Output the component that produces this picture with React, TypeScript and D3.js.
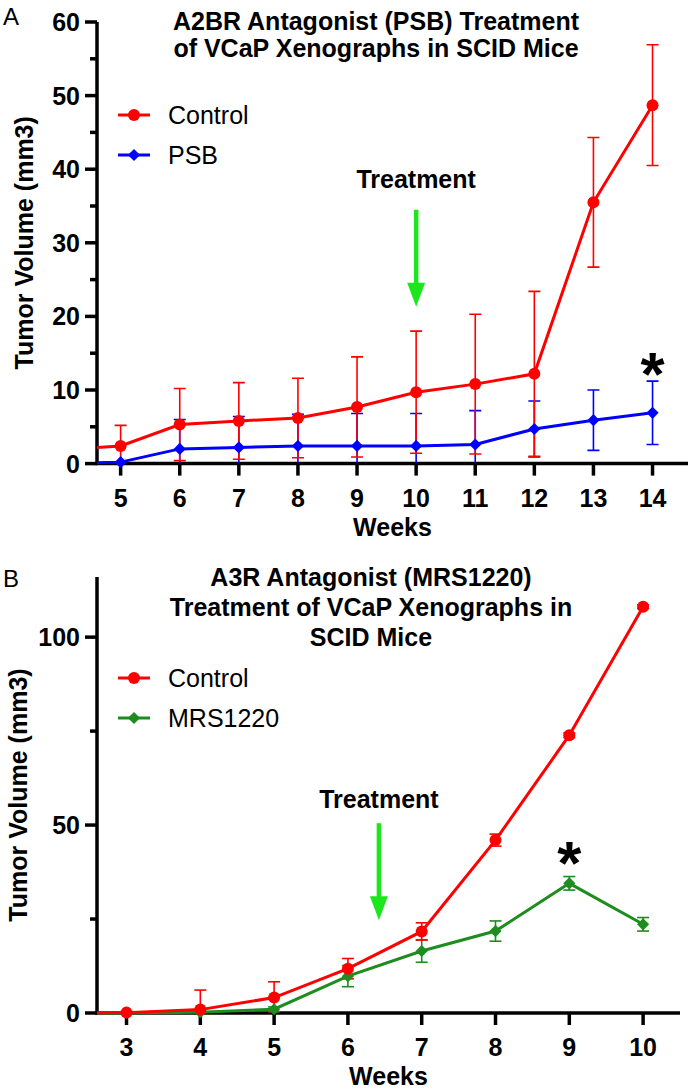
import * as d3 from "d3";

const FONT = "'Liberation Sans', Arial, Helvetica, sans-serif";

// Panel A: A2BR antagonist (PSB)
const weeksA = [4, 5, 6, 7, 8, 9, 10, 11, 12, 13, 14];
const controlA = [1.9, 2.4, 5.3, 5.8, 6.2, 7.7, 9.7, 10.8, 12.2, 35.5, 48.7];
const controlErrA = [0, 2.8, 4.9, 5.2, 5.4, 6.8, 8.3, 9.5, 11.2, 8.8, 8.2];
const psbA = [0, 0.2, 2.0, 2.2, 2.4, 2.4, 2.4, 2.6, 4.7, 5.9, 6.9];
const psbErrA = [0, 0, 4.0, 4.2, 4.3, 4.4, 4.4, 4.6, 3.8, 4.1, 4.3];
const xTicksA = [5, 6, 7, 8, 9, 10, 11, 12, 13, 14];
const yTicksA = [0, 10, 20, 30, 40, 50, 60];
const yMinorA = [5, 15, 25, 35, 45, 55];
const titleA = ["A2BR Antagonist (PSB) Treatment", "of VCaP Xenographs in SCID Mice"];

// Panel B: A3R antagonist (MRS1220)
const weeksB = [2, 3, 4, 5, 6, 7, 8, 9, 10];
const controlB = [0, 0.1, 0.9, 4.1, 11.8, 21.7, 46.0, 73.9, 108.1];
const controlErrB = [0, 0.3, 5.2, 4.2, 2.7, 2.3, 1.6, 0.6, 0.5];
const mrsB = [0, 0, 0.2, 1.0, 9.8, 16.5, 21.8, 34.5, 23.6];
const mrsErrB = [0, 0, 0.3, 0.6, 2.8, 3.0, 2.7, 1.8, 1.8];
const xTicksB = [3, 4, 5, 6, 7, 8, 9, 10];
const yTicksB = [0, 50, 100];
const yMinorB = [25, 75];
const titleB = ["A3R Antagonist (MRS1220)", "Treatment of VCaP Xenographs in", "SCID Mice"];

const RED = "#ff0000";
const BLUE = "#0000ff";
const GREEN = "#1e8c1e";
const ARROW = "#1ee61e";
const FS = 25;

const marker = (shape, x, y, color) =>
  shape === "circle" ? (
    <circle cx={x} cy={y} r={6} fill={color} />
  ) : (
    <rect x={x - 4.3} y={y - 4.3} width={8.6} height={8.6} fill={color}
      transform={`rotate(45 ${x} ${y})`} />
  );

function Panel({ id, letter, letterY, title, titleX, titleY, titleGap, x, y, xTicks, yTicks, yMinor,
  series, legendY, yLabelX, treat, star }) {
  const [x0, x1] = x.range();
  const yb = y.range()[0];
  const yt = y.range()[1];
  const line = d3.line().x((d) => x(d[0])).y((d) => y(d[1]));
  // second series drawn underneath the control
  const drawOrder = [...series].reverse();
  return (
    <g fontFamily={FONT}>
      <defs>
        <clipPath id={`lc-${id}`}>
          <rect x={x0} y={yt - 20} width={x1 - x0 + 20} height={yb - yt + 40} />
        </clipPath>
        <clipPath id={`ec-${id}`}>
          <rect x={x0} y={yt - 20} width={x1 - x0 + 20} height={yb - yt + 20} />
        </clipPath>
      </defs>
      <text x={3} y={letterY} fontSize={24}>{letter}</text>
      {title.map((t, i) => (
        <text key={i} x={titleX} y={titleY + i * titleGap} fontSize={FS} fontWeight="bold"
          textAnchor="middle">{t}</text>
      ))}

      {/* axes */}
      <line x1={x0} x2={x0} y1={yt} y2={yb + 1.5} stroke="#000" strokeWidth={3.5} />
      <line x1={x0 - 1.7} x2={x1} y1={yb} y2={yb} stroke="#000" strokeWidth={3.5} />
      {yTicks.map((v) => (
        <g key={v}>
          <line x1={x0 - 12} x2={x0} y1={y(v)} y2={y(v)} stroke="#000" strokeWidth={3.5} />
          <text x={x0 - 17} y={y(v) + 9} fontSize={FS} fontWeight="bold" textAnchor="end">{v}</text>
        </g>
      ))}
      {yMinor.map((v) => (
        <line key={v} x1={x0 - 7} x2={x0} y1={y(v)} y2={y(v)} stroke="#000" strokeWidth={3.5} />
      ))}
      {xTicks.map((v) => (
        <g key={v}>
          <line x1={x(v)} x2={x(v)} y1={yb} y2={yb + 12} stroke="#000" strokeWidth={3.5} />
          <text x={x(v)} y={yb + 43} fontSize={FS} fontWeight="bold" textAnchor="middle">{v}</text>
        </g>
      ))}
      <text x={(x0 + x1) / 2} y={yb + 72} fontSize={FS} fontWeight="bold" textAnchor="middle">Weeks</text>
      <text transform={`translate(${yLabelX},${(yb + yt) / 2}) rotate(-90)`} fontSize={FS}
        fontWeight="bold" textAnchor="middle">Tumor Volume (mm3)</text>

      {/* error bars */}
      <g clipPath={`url(#ec-${id})`}>
        {drawOrder.map((s) =>
          s.weeks.map((w, i) =>
            s.err[i] > 0 ? (
              <g key={s.name + w} stroke={s.color} strokeWidth={1.6}>
                <line x1={x(w)} x2={x(w)} y1={y(s.values[i] - s.err[i])} y2={y(s.values[i] + s.err[i])} />
                <line x1={x(w) - 6} x2={x(w) + 6} y1={y(s.values[i] + s.err[i])} y2={y(s.values[i] + s.err[i])} />
                <line x1={x(w) - 6} x2={x(w) + 6} y1={y(s.values[i] - s.err[i])} y2={y(s.values[i] - s.err[i])} />
              </g>
            ) : null
          )
        )}
      </g>
      {/* lines and markers */}
      {drawOrder.map((s) => (
        <g key={s.name}>
          <path d={line(s.weeks.map((w, i) => [w, s.values[i]]))} fill="none" stroke={s.color}
            strokeWidth={3} clipPath={`url(#lc-${id})`} />
          {s.weeks.map((w, i) =>
            w >= x.domain()[0] ? <g key={w}>{marker(s.shape, x(w), y(s.values[i]), s.color)}</g> : null
          )}
        </g>
      ))}

      {/* legend */}
      {series.map((s, i) => (
        <g key={s.name}>
          <line x1={118} x2={150} y1={legendY + i * 40} y2={legendY + i * 40} stroke={s.color} strokeWidth={3} />
          {marker(s.shape, 134, legendY + i * 40, s.color)}
          <text x={168} y={legendY + i * 40 + 9} fontSize={FS}>{s.name}</text>
        </g>
      ))}

      {/* treatment annotation */}
      <text x={x(treat.week)} y={y(treat.textY)} fontSize={FS} fontWeight="bold" textAnchor="middle">Treatment</text>
      <line x1={x(treat.week)} x2={x(treat.week)} y1={y(treat.top)} y2={y(treat.tip) - 20}
        stroke={ARROW} strokeWidth={4.5} />
      <path d={`M${x(treat.week) - 9},${y(treat.tip) - 24} L${x(treat.week) + 9},${y(treat.tip) - 24} L${x(treat.week)},${y(treat.tip)} Z`}
        fill={ARROW} />
      <text x={x(star.week)} y={y(star.value) + 36} fontSize={62} fontWeight="bold" textAnchor="middle">*</text>
    </g>
  );
}

export default function App() {
  const xA = d3.scaleLinear().domain([4.6, 14.6]).range([97, 688]);
  const yA = d3.scaleLinear().domain([0, 60]).range([463.6, 22]);
  const xB = d3.scaleLinear().domain([2.6, 10.5]).range([97, 680]);
  const yB = d3.scaleLinear().domain([0, 116]).range([1013, 577]);

  const seriesA = [
    { name: "Control", weeks: weeksA, values: controlA, err: controlErrA, color: RED, shape: "circle" },
    { name: "PSB", weeks: weeksA, values: psbA, err: psbErrA, color: BLUE, shape: "diamond" },
  ];
  const seriesB = [
    { name: "Control", weeks: weeksB, values: controlB, err: controlErrB, color: RED, shape: "circle" },
    { name: "MRS1220", weeks: weeksB, values: mrsB, err: mrsErrB, color: GREEN, shape: "diamond" },
  ];

  return (
    <svg width={695} height={1092} style={{ position: "absolute", left: 0, top: 0, background: "#fff" }}>
      <rect width={695} height={1092} fill="#fff" />
      <Panel id="a" letter="A" letterY={25} title={titleA} titleX={376} titleY={30} titleGap={27}
        x={xA} y={yA} xTicks={xTicksA} yTicks={yTicksA} yMinor={yMinorA}
        series={seriesA} legendY={115} yLabelX={33}
        treat={{ week: 10, textY: 37.5, top: 34.5, tip: 21.3 }} star={{ week: 14, value: 14.2 }} />
      <Panel id="b" letter="B" letterY={587} title={titleB} titleX={371} titleY={586} titleGap={30}
        x={xB} y={yB} xTicks={xTicksB} yTicks={yTicksB} yMinor={yMinorB}
        series={seriesB} legendY={678} yLabelX={27}
        treat={{ week: 6.42, textY: 54.5, top: 50.5, tip: 24.7 }} star={{ week: 9, value: 44 }} />
    </svg>
  );
}
